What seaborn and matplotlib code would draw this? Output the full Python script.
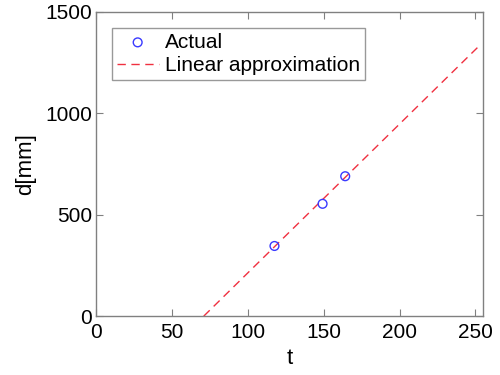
import matplotlib
matplotlib.use("Agg")
import matplotlib.pyplot as plt
import seaborn as sns
import pandas as pd

# measured points
t_actual = [117.6, 149.3, 164.2]
d_actual = [346, 554, 690]

# linear approximation (endpoints of the fitted line)
t_fit = [71.0, 252.5]
d_fit = [0, 1333]

sns.set_theme(style="ticks")
plt.rcParams['font.family'] = ['Liberation Sans', 'DejaVu Sans']
plt.rcParams['text.color'] = 'black'
plt.rcParams['axes.labelcolor'] = 'black'

fig = plt.figure(figsize=(5, 3.75), dpi=100)
ax = fig.add_axes([0.192, 0.157, 0.774, 0.811])

actual = pd.DataFrame({'t': t_actual, 'd': d_actual})
fit = pd.DataFrame({'t': t_fit, 'd': d_fit})

sns.scatterplot(data=actual, x='t', y='d', ax=ax, marker='o', s=40,
                facecolor='none', edgecolor='#3a3aff', linewidth=1.0,
                label='Actual', zorder=3)
sns.lineplot(data=fit, x='t', y='d', ax=ax, color='#f03040', linewidth=1.0,
             linestyle=(0, (6, 4)), label='Linear approximation')

ax.set_xlim(0, 255)
ax.set_ylim(0, 1500)
ax.set_xticks([0, 50, 100, 150, 200, 250])
ax.set_yticks([0, 500, 1000, 1500])
ax.set_xlabel('t', fontsize=16, labelpad=4)
ax.set_ylabel('d[mm]', fontsize=16, labelpad=6)
ax.tick_params(direction='in', length=5, width=0.8, colors='#808080',
               labelcolor='black', labelsize=15, top=True, right=True)
ax.tick_params(axis='x', pad=5)
ax.tick_params(axis='y', pad=3)
for sp in ax.spines.values():
    sp.set_color('#808080')
    sp.set_linewidth(1.0)

leg = ax.legend(loc='upper left', fontsize=15, frameon=True, fancybox=False,
                borderpad=0.25, labelspacing=0.2, handlelength=2.0,
                handletextpad=0.3, borderaxespad=0.75)
leg.get_frame().set_edgecolor('#808080')
leg.get_frame().set_linewidth(1.0)

fig.savefig('out.png', dpi=100)
